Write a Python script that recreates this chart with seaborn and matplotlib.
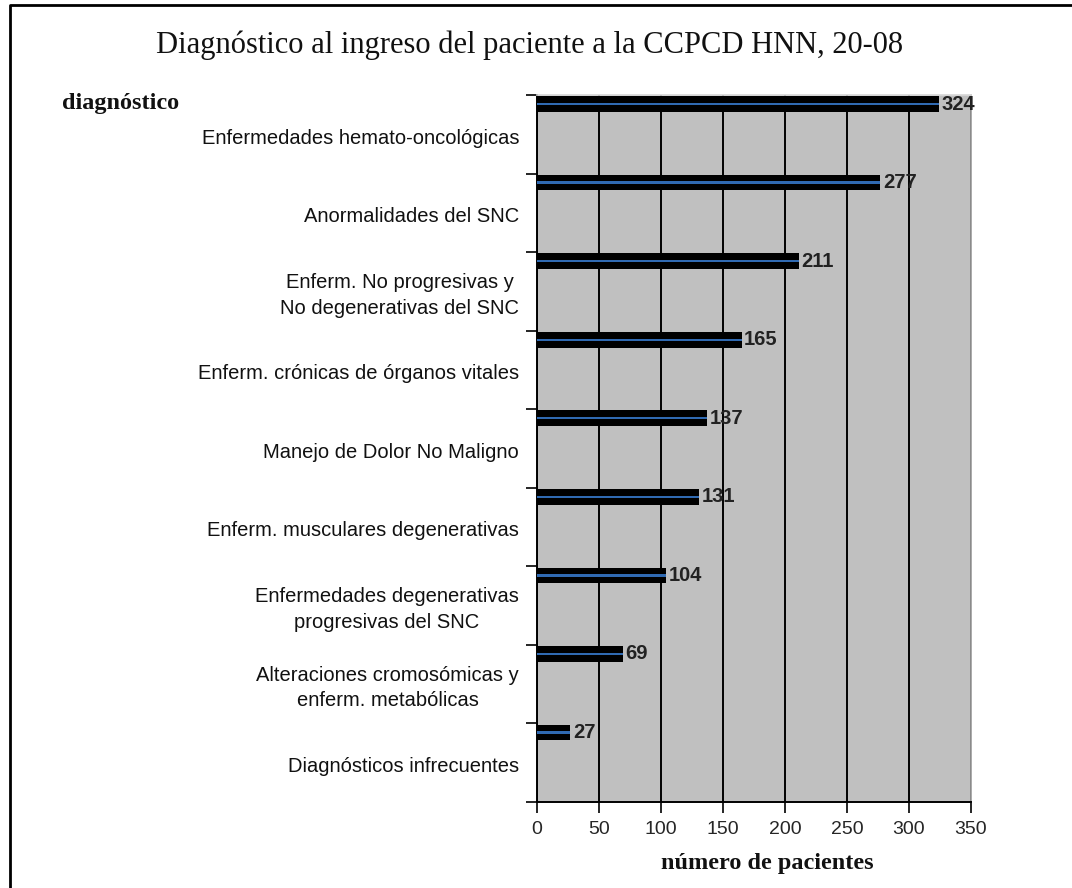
import numpy as np
import pandas as pd
import matplotlib
matplotlib.use("Agg")
import matplotlib.pyplot as plt
from matplotlib.lines import Line2D
from matplotlib import transforms
import seaborn as sns

categories = [
    "Enfermedades hemato-oncológicas",
    "Anormalidades del SNC",
    "Enferm. No progresivas y\nNo degenerativas del SNC",
    "Enferm. crónicas de órganos vitales",
    "Manejo de Dolor No Maligno",
    "Enferm. musculares degenerativas",
    "Enfermedades degenerativas\nprogresivas del SNC",
    "Alteraciones cromosómicas y\nenferm. metabólicas",
    "Diagnósticos infrecuentes",
]
values = [324, 277, 211, 165, 137, 131, 104, 69, 27]
x_ticks = [0, 50, 100, 150, 200, 250, 300, 350]
title = "Diagnóstico al ingreso del paciente a la CCPCD HNN, 20-08"
y_title = "diagnóstico"
x_title = "número de pacientes"

sns.set_theme(style="white")
plt.rcParams['font.family'] = ['Liberation Sans', 'DejaVu Sans']

fig = plt.figure(figsize=(10.72, 8.88), dpi=100)
ax = fig.add_axes([537/1072, 1-802/888, (971-537)/1072, (802-95)/888])
ax.set_facecolor("#c0c0c0")

idx = np.arange(len(categories))
df = pd.DataFrame({"cat": categories, "val": values, "pos": idx + 0.115})

sns.barplot(data=df, x="val", y="pos", orient="h", native_scale=True,
            width=0.2, color="black", edgecolor="black", linewidth=0, ax=ax, zorder=3)
sns.barplot(data=df, x="val", y="pos", orient="h", native_scale=True,
            width=0.03, color="#1a68c8", linewidth=0, ax=ax, zorder=4)

ax.set_xlim(0, 350)
ax.set_ylim(9, 0)
ax.set_xticks(x_ticks)
ax.set_xticklabels([str(t) for t in x_ticks], fontsize=14)
ax.set_yticks(np.arange(len(categories) + 1))
ax.set_yticklabels([])
ax.tick_params(axis="y", which="major", direction="out", length=8, width=1.2, color="black", left=True)
ax.tick_params(axis="x", which="major", direction="out", length=8, width=1.2, color="black", bottom=True, pad=6)
ax.xaxis.grid(True, color="black", linewidth=1.4, zorder=1)
ax.yaxis.grid(False)
ax.set_axisbelow(True)
for s in ["left", "bottom"]:
    ax.spines[s].set_color("black")
    ax.spines[s].set_linewidth(1.4)
ax.spines["right"].set_color("#a0a0a0")
ax.spines["top"].set_color("#d8d8d8")
ax.set_xlabel("")
ax.set_ylabel("")

lab_tr = transforms.offset_copy(ax.get_yaxis_transform(), fig=fig, x=-18, y=0, units="dots")
for i, (c, v) in enumerate(zip(categories, values)):
    ax.text(0.0, i + 0.55, c, transform=lab_tr, ha="right", va="center",
            multialignment="center", fontsize=14.5, color="#111111", linespacing=1.45,
            clip_on=False)
    ax.text(v + 2, i + 0.115, str(v), ha="left", va="center", fontsize=14.5,
            fontweight="bold", color="#222222", zorder=5)

fig.text(530/1072, 1-45/888, title, ha="center", va="center", fontsize=22,
         family=["Liberation Serif", "DejaVu Serif"], color="#111111")
fig.text(62/1072, 1-104/888, y_title, ha="left", va="center", fontsize=17.5,
         family=["Liberation Serif", "DejaVu Serif"], fontweight="bold", color="#111111")
fig.text(767/1072, 1-863/888, x_title, ha="center", va="center", fontsize=17.5,
         family=["Liberation Serif", "DejaVu Serif"], fontweight="bold", color="#111111")

fig.add_artist(Line2D([9.5/1072, 9.5/1072, 1.0], [0.0, 1-5/888, 1-5/888],
                      transform=fig.transFigure, color="black", linewidth=2))

fig.savefig("out.png", dpi=100, facecolor="white")
